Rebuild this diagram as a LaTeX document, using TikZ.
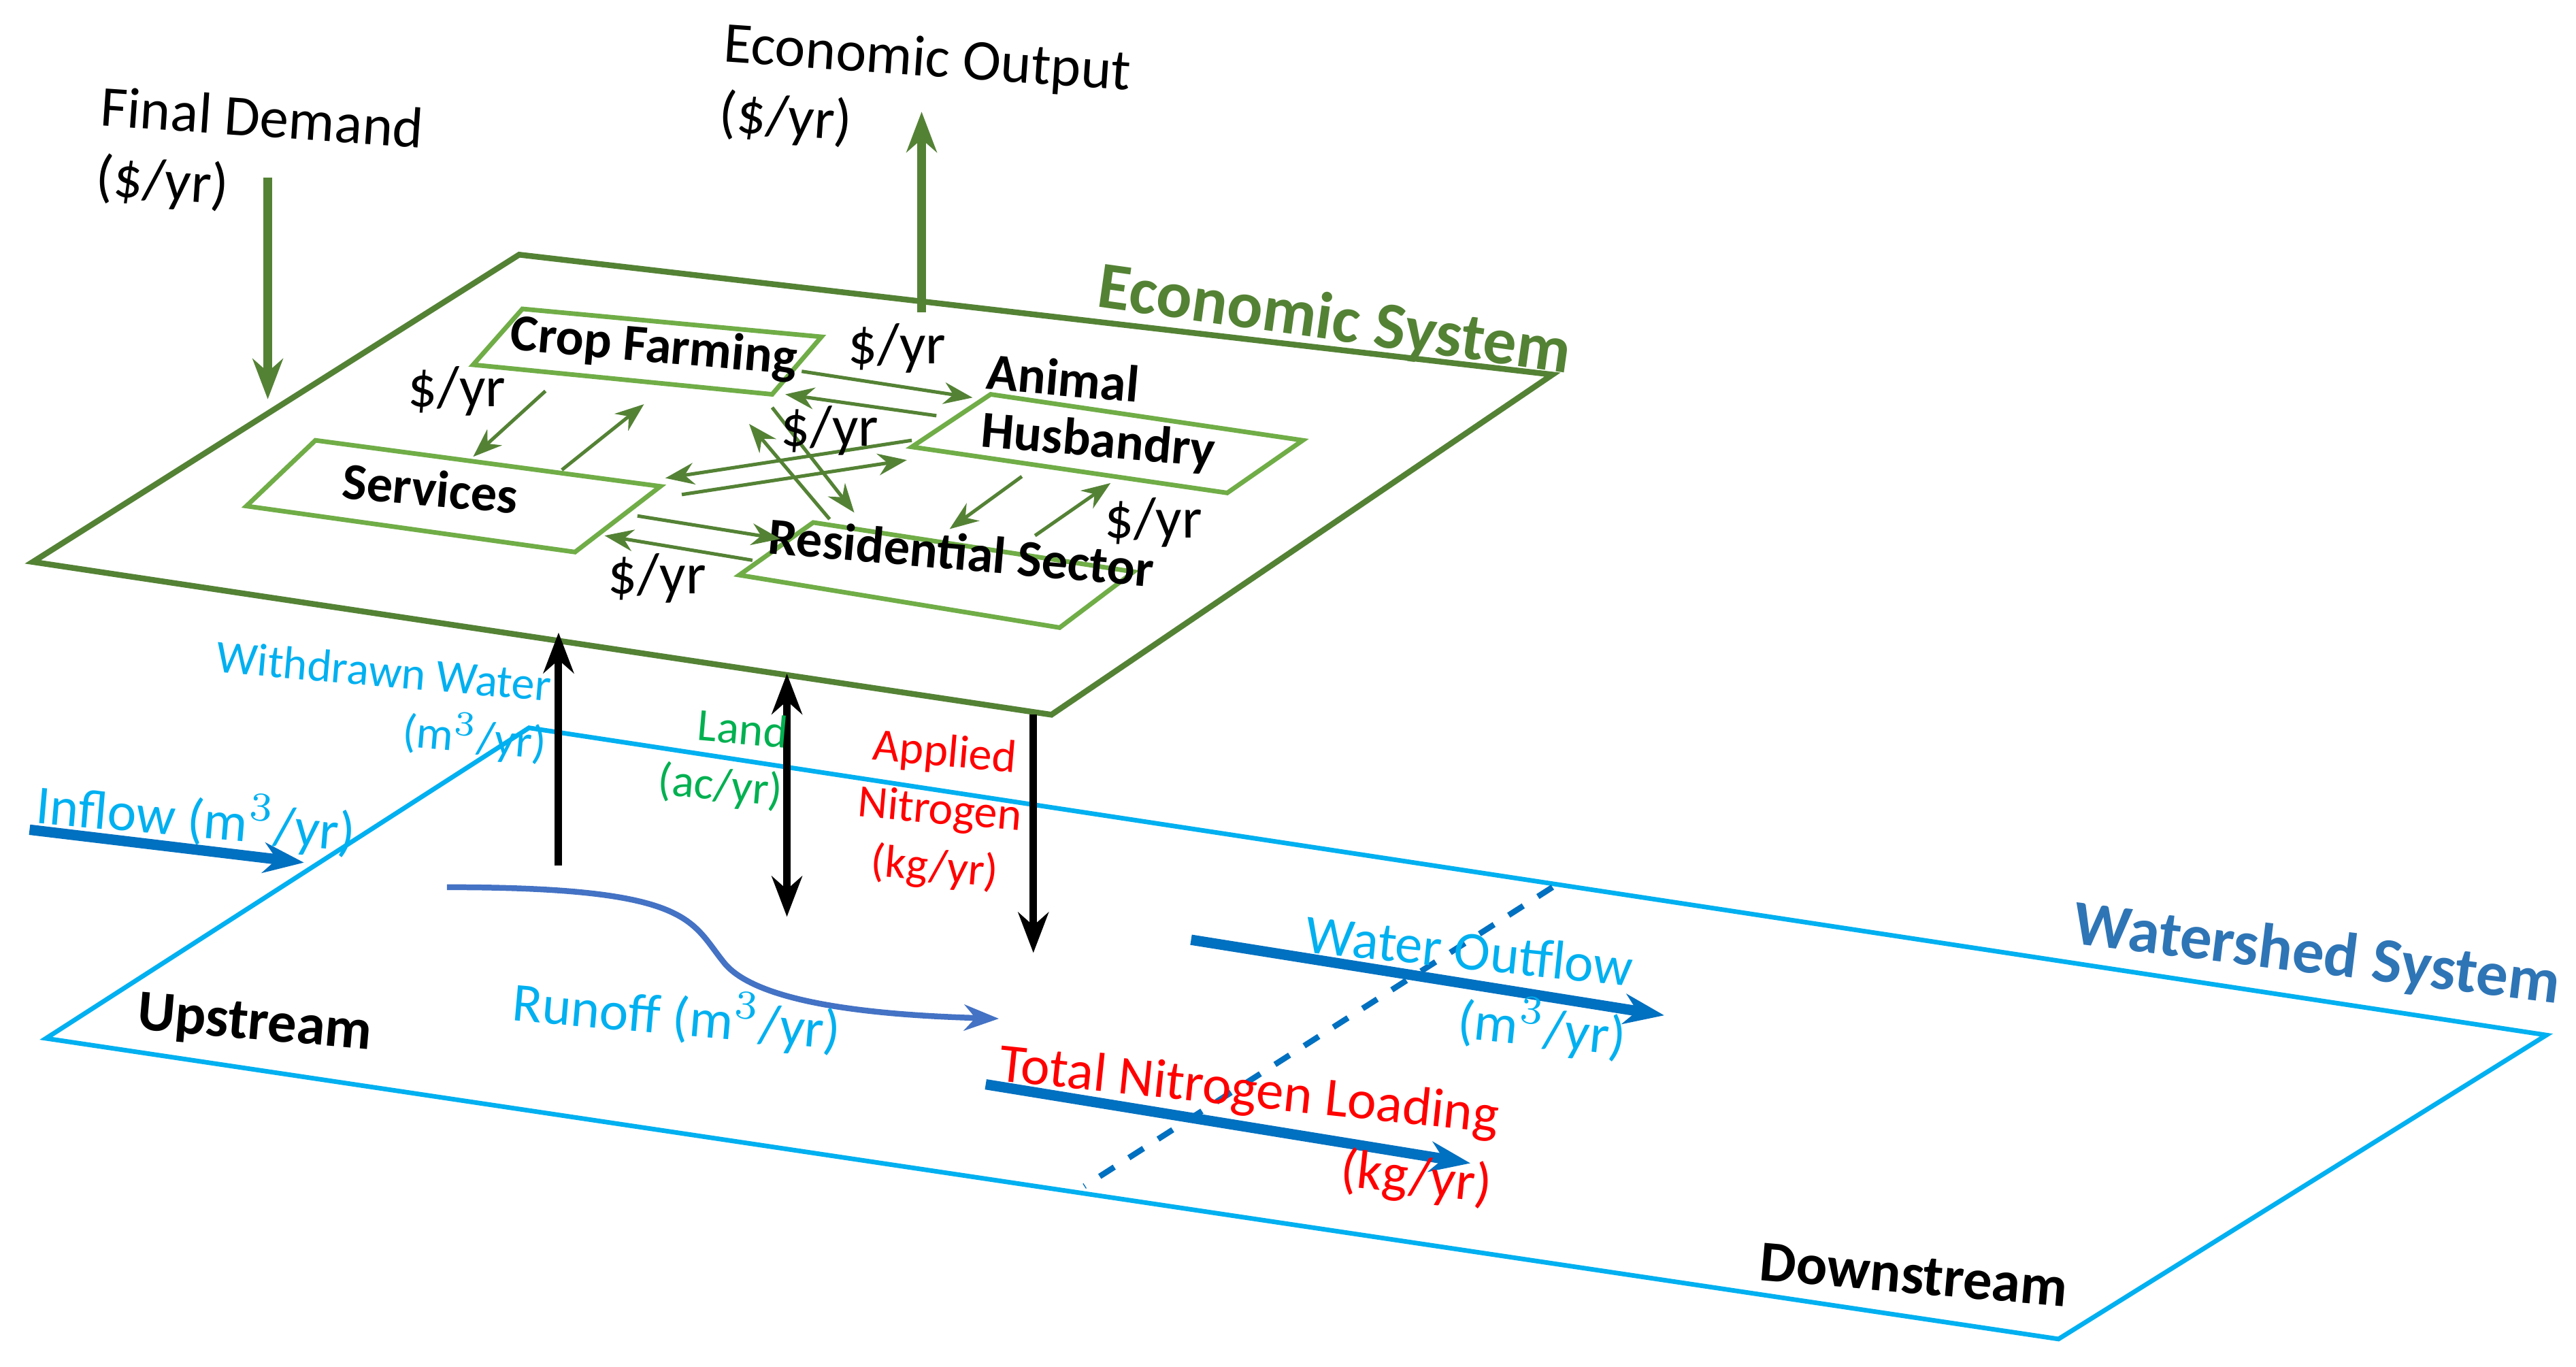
\documentclass[tikz,border=0pt]{standalone}
\usepackage{fontspec}
\setmainfont{Carlito}
\usetikzlibrary{arrows.meta}
\definecolor{dg}{RGB}{84,130,53}
\definecolor{lg}{RGB}{112,173,71}
\definecolor{sky}{RGB}{0,176,240}
\definecolor{wb}{RGB}{0,112,192}
\definecolor{ws}{RGB}{46,117,182}
\definecolor{lnd}{RGB}{0,176,80}
\begin{document}
\begin{tikzpicture}[x=0.01cm,y=-0.01cm,
 ga/.style={-{Stealth[length=5pt]},dg,line width=0.6pt},
 gb/.style={-{Stealth[length=7pt]},dg,line width=1.6pt},
 ka/.style={-{Stealth[length=7pt]},black,line width=1.3pt},
 ba/.style={-{Stealth[length=7pt]},wb,line width=1.8pt},
 lb/.style={font=\fontsize{9}{10}\selectfont},
 bx/.style={lg,line width=0.8pt},
 bt/.style={font=\bfseries\fontsize{9}{10}\selectfont,rotate=-5}]
\useasboundingbox (0,0) rectangle (1568,832);
% watershed plane
\draw[sky,line width=0.8pt] (322,443)--(1550,630)--(1253,815)--(28,632)--cycle;
\coordinate (d1) at (945,540); \coordinate (d2) at (660,722);
\draw[wb,dashed,line width=1pt] (d1)--(d2);
% economic plane
\draw[dg,line width=1pt,fill=white] (316,155)--(945,228)--(640,435)--(20,342)--cycle;
% boxes
\draw[bx] (318,188)--(500,205)--(470,240)--(288,222)--cycle;
\draw[bx] (603,240)--(793,268)--(747,300)--(555,272)--cycle;
\draw[bx] (192,268)--(402,296)--(350,336)--(150,308)--cycle;
\draw[bx] (495,318)--(690,348)--(645,382)--(450,350)--cycle;
\node[bt] (cf) at (398,212) {Crop Farming};
\node[bt,align=left] (ah) at (670,252) {Animal\\Husbandry};
\node[bt] (sv) at (262,297) {Services};
\node[bt] (rs) at (585,336) {Residential Sector};
% green arrows
\coordinate (a1) at (488,226); \coordinate (a2) at (592,242);
\draw[ga] (a1)--(a2);
\coordinate (a3) at (570,253); \coordinate (a4) at (478,240);
\draw[ga] (a3)--(a4);
\coordinate (b1) at (332,238); \coordinate (b2) at (288,278);
\draw[ga] (b1)--(b2);
\coordinate (b3) at (342,286); \coordinate (b4) at (392,246);
\draw[ga] (b3)--(b4);
\coordinate (c1) at (555,268); \coordinate (c2) at (405,291);
\draw[ga] (c1)--(c2);
\coordinate (c3) at (415,301); \coordinate (c4) at (552,280);
\draw[ga] (c3)--(c4);
\coordinate (e1) at (470,248); \coordinate (e2) at (520,312);
\draw[ga] (e1)--(e2);
\coordinate (e3) at (505,316); \coordinate (e4) at (456,258);
\draw[ga] (e3)--(e4);
\coordinate (f1) at (388,314); \coordinate (f2) at (475,328);
\draw[ga] (f1)--(f2);
\coordinate (f3) at (458,341); \coordinate (f4) at (368,326);
\draw[ga] (f3)--(f4);
\coordinate (h1) at (622,290); \coordinate (h2) at (578,322);
\draw[ga] (h1)--(h2);
\coordinate (h3) at (630,326); \coordinate (h4) at (676,294);
\draw[ga] (h3)--(h4);
\node[lb,font=\fontsize{10}{11}\selectfont] (l1) at (546,212) {\$/yr};
\node[lb,font=\fontsize{10}{11}\selectfont] (l2) at (278,238) {\$/yr};
\node[lb,font=\fontsize{10}{11}\selectfont] (l3) at (505,262) {\$/yr};
\node[lb,font=\fontsize{10}{11}\selectfont] (l4) at (702,318) {\$/yr};
\node[lb,font=\fontsize{10}{11}\selectfont] (l5) at (400,352) {\$/yr};
% top arrows
\node[lb,align=left,font=\fontsize{10}{12}\selectfont,rotate=-4] (fd) at (158,95) {Final Demand\\(\$/yr)};
\coordinate (fd2) at (163,243);
\draw[gb] (163,108)--(fd2);
\node[lb,align=left,font=\fontsize{10}{12}\selectfont,rotate=-4] (eo) at (563,58) {Economic Output\\(\$/yr)};
\coordinate (eo1) at (561,190);
\draw[gb] (eo1)--(561,68);
\node[font=\bfseries\fontsize{11.5}{13}\selectfont,dg,rotate=-8] (es) at (812,196) {Economic System};
% black arrows
\coordinate (w1) at (340,527); \coordinate (w2) at (340,385);
\draw[ka] (w1)--(w2);
\coordinate (n1) at (479,410); \coordinate (n2) at (479,558);
\draw[ka,{Stealth[length=7pt]}-{Stealth[length=7pt]}] (n1)--(n2);
\coordinate (p1) at (629,435); \coordinate (p2) at (629,580);
\draw[ka] (p1)--(p2);
\node[lb,sky,align=right,font=\fontsize{8}{10}\selectfont,rotate=-5] (ww) at (232,428) {Withdrawn Water\\($\mathrm{m}^3$/yr)};
\node[lb,lnd,align=right,font=\fontsize{8}{10}\selectfont,rotate=-5] (ld) at (440,462) {Land\\(ac/yr)};
\node[lb,red,align=center,font=\fontsize{8}{10}\selectfont,rotate=-5] (an) at (572,494) {Applied\\Nitrogen\\(kg/yr)};
% watershed
\coordinate (i1) at (18,505); \coordinate (i2) at (185,525);
\draw[ba] (i1)--(i2);
\node[lb,sky,font=\fontsize{9.5}{11}\selectfont,rotate=-5,anchor=west] (in) at (10,488) {Inflow ($\mathrm{m}^3$/yr)};
\coordinate (r1) at (272,540); \coordinate (r2) at (608,620);
\draw[-{Stealth[length=6pt]},color={rgb,255:red,68;green,114;blue,196},line width=1pt] (r1) .. controls (420,540) and (420,560) .. (440,585) .. controls (460,612) and (540,618) .. (r2);
\node[lb,sky,font=\fontsize{9.5}{11}\selectfont,rotate=-5] (ro) at (412,618) {Runoff ($\mathrm{m}^3$/yr)};
\coordinate (o1) at (725,572); \coordinate (o2) at (1013,618);
\draw[ba] (o1)--(o2);
\node[lb,sky,align=right,font=\fontsize{9.5}{12}\selectfont,rotate=-6] (wo) at (892,602) {Water Outflow\\($\mathrm{m}^3$/yr)};
\coordinate (t1) at (600,660); \coordinate (t2) at (895,708);
\draw[ba] (t1)--(t2);
\node[lb,red,align=right,font=\fontsize{9.5}{12}\selectfont,rotate=-6] (tn) at (758,686) {Total Nitrogen Loading\\(kg/yr)};
\node[font=\bfseries\fontsize{10}{11}\selectfont,rotate=-5] (up) at (155,624) {Upstream};
\node[font=\bfseries\fontsize{10}{11}\selectfont,rotate=-5] (dn) at (1165,776) {Downstream};
\node[font=\bfseries\fontsize{11}{13}\selectfont,ws,rotate=-7] (wsy) at (1410,582) {Watershed System};
\end{tikzpicture}
\end{document}
